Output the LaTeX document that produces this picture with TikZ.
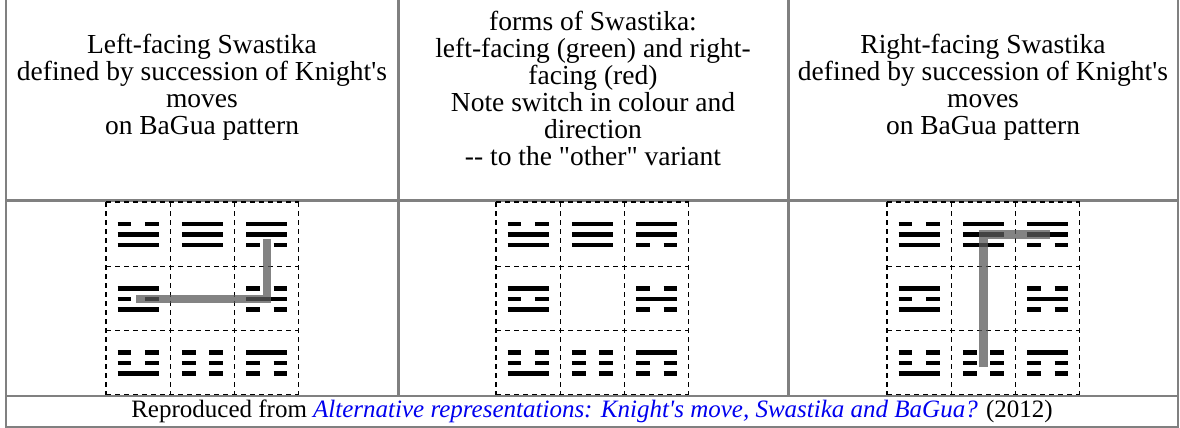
\documentclass[tikz,border=0pt]{standalone}
\usepackage{fontspec}
\setmainfont{Liberation Serif}[Ligatures=TeXOff]
\usetikzlibrary{calc}

\definecolor{rulegray}{RGB}{128,128,128}
\definecolor{linkblue}{RGB}{0,0,238}
\definecolor{knightgray}{RGB}{90,90,90}

% one line of a trigram: node, vertical offset, 1 = solid / 0 = broken
\newcommand{\yao}[3]{%
  \ifnum#3=1
    \draw[yaoline] ($(#1)+(-20.5,#2)$) -- ($(#1)+(20.5,#2)$);
  \else
    \draw[yaoline] ($(#1)+(-20.5,#2)$) -- ($(#1)+(-6.8,#2)$);
    \draw[yaoline] ($(#1)+(6.8,#2)$) -- ($(#1)+(20.5,#2)$);
  \fi}

\begin{document}
\begin{tikzpicture}[
	x = 1pt, y = -1pt,
	tablerule/.style = {draw=rulegray, line width=2.5pt},
	cellrule/.style = {draw=black, line width=1.1pt, dash pattern=on 5pt off 4pt},
	yaoline/.style = {black, line width=4.5pt},
	gua/.style = {coordinate},
	knight/.style = {draw=knightgray, opacity=0.75, line width=8.5pt},
	heading/.style = {align=center, font=\fontsize{27.5}{27}\selectfont},
	caption/.style = {font=\fontsize{25}{27}\selectfont}
	]
	\useasboundingbox (0,0) rectangle (1180,428);
	% table
	\draw[tablerule] (6,0) -- (6,427) -- (1178,427) -- (1178,0);
	\draw[tablerule] (398.5,0) -- (398.5,396);
	\draw[tablerule] (788.5,0) -- (788.5,396);
	\draw[tablerule] (6,200.5) -- (1178,200.5);
	\draw[tablerule] (6,396) -- (1178,396);
	% headings
	\node[heading] (lefthead) at (202,87.5) {Left-facing Swastika\\defined by succession of Knight's\\moves\\on BaGua pattern};
	\node[heading] (midhead) at (593,88) {forms of Swastika:\\left-facing (green) and right-\\facing (red)\\Note switch in colour and\\direction\\-- to the "other" variant};
	\node[heading] (righthead) at (983,87.5) {Right-facing Swastika\\defined by succession of Knight's\\moves\\on BaGua pattern};
	% BaGua grids
	\foreach \p/\gx in {L/106, M/496, R/887} {
		\foreach \i in {0,...,3} {
			\draw[cellrule] (\gx+64.3*\i,202) -- (\gx+64.3*\i,394.9);
			\draw[cellrule] (\gx,202+64.3*\i) -- (\gx+192.9,202+64.3*\i);
		}
		\foreach \c/\r/\g/\a/\b/\d in {0/0/dui/0/1/1, 1/0/qian/1/1/1, 2/0/xun/1/1/0,
			0/1/li/1/0/1, 2/1/kan/0/1/0,
			0/2/zhen/0/0/1, 1/2/kun/0/0/0, 2/2/gen/1/0/0} {
			\node[gua] (\p-\g) at (\gx+32.15+64.3*\c,234.6+64.3*\r) {};
			\yao{\p-\g}{-10.5}{\a}
			\yao{\p-\g}{0}{\b}
			\yao{\p-\g}{10.5}{\d}
		}
	}
	% knight's moves
	\draw[knight, shorten <=-2pt, shorten >=4pt] (L-li) -- (L-kan) -- (L-xun);
	\draw[knight, shorten <=-4pt, shorten >=-2pt] (R-kun) -- (R-qian) -- (R-xun);
	% source
	\node[caption] (source) at (592,411) {Reproduced from \textcolor{linkblue}{\itshape Alternative representations: Knight's move, Swastika and BaGua?} (2012)};
\end{tikzpicture}
\end{document}
